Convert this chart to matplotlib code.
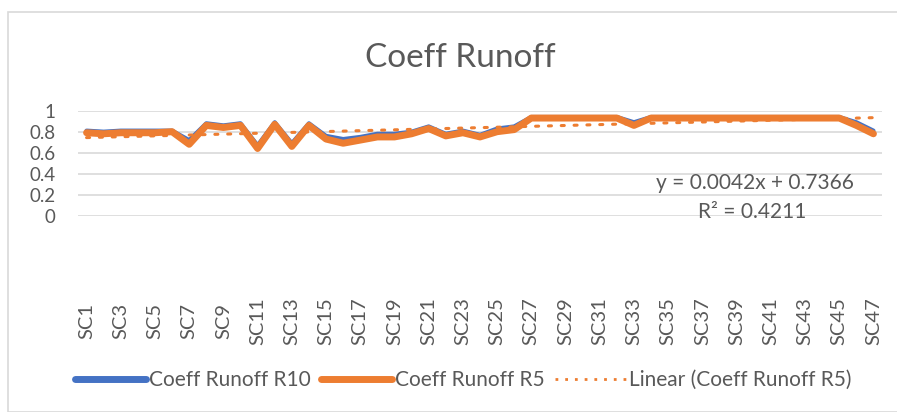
import matplotlib
matplotlib.use("Agg")
import matplotlib.pyplot as plt
import numpy as np
from matplotlib.patches import Rectangle
from matplotlib.lines import Line2D

categories = [f"SC{i}" for i in range(1, 48)]
r10 = [0.81, 0.80, 0.81, 0.81, 0.81, 0.81, 0.72, 0.88, 0.86, 0.88,
       0.67, 0.89, 0.69, 0.88, 0.76, 0.73, 0.75, 0.78, 0.78, 0.80,
       0.85, 0.78, 0.81, 0.77, 0.83, 0.85, 0.94, 0.94, 0.94, 0.94,
       0.94, 0.94, 0.89, 0.94, 0.94, 0.94, 0.94, 0.94, 0.94, 0.94,
       0.94, 0.94, 0.94, 0.94, 0.94, 0.89, 0.81]
r5 = [0.79, 0.78, 0.79, 0.79, 0.79, 0.80, 0.68, 0.86, 0.84, 0.86,
      0.64, 0.87, 0.66, 0.86, 0.73, 0.69, 0.72, 0.75, 0.75, 0.78,
      0.83, 0.76, 0.79, 0.75, 0.80, 0.82, 0.93, 0.93, 0.93, 0.93,
      0.93, 0.93, 0.86, 0.93, 0.93, 0.93, 0.93, 0.93, 0.93, 0.93,
      0.93, 0.93, 0.93, 0.93, 0.93, 0.86, 0.78]
yticks = [0, 0.2, 0.4, 0.6, 0.8, 1]
ytick_labels = ["0", "0.2", "0.4", "0.6", "0.8", "1"]
title = "Coeff Runoff"
equation = "y = 0.0042x + 0.7366"
r2_text = "R² = 0.4211"

FONT = ["Lato", "DejaVu Sans"]
TXT = "#595959"
BLUE = "#4472C4"
ORANGE = "#ED7D31"

W, H = 897, 412
fig = plt.figure(figsize=(W / 100, H / 100), dpi=100)
plt.rcParams['font.family'] = FONT

# chart border
fig.patches.append(Rectangle((8 / W, 0), 1, 1 - 12 / H, transform=fig.transFigure,
                             fill=False, edgecolor="#D9D9D9", linewidth=1.2, zorder=0))

left, right = 78 / W, 882 / W
top, bottom = 1 - 110.7 / H, 1 - 215.7 / H
ax = fig.add_axes([left, bottom, right - left, top - bottom])

x = np.arange(1, len(categories) + 1)
ax.plot(x, r10, color=BLUE, linewidth=3.0, solid_capstyle="round", solid_joinstyle="round", zorder=3)
ax.plot(x, r5, color=ORANGE, linewidth=5.0, solid_capstyle="round", solid_joinstyle="round", zorder=4)
coef = np.polyfit(x, r5, 1)
ax.plot(x, np.polyval(coef, x), color=ORANGE, linewidth=2.2, linestyle=(0, (1, 3.2)),
        dash_capstyle="round", zorder=5)

ax.set_xlim(0.5, len(categories) + 0.5)
ax.set_ylim(0, 1)
ax.set_yticks(yticks)
ax.set_yticklabels(ytick_labels, fontsize=13.5, color=TXT)
ax.yaxis.grid(True, color="#D9D9D9", linewidth=1.2)
ax.set_axisbelow(True)
ax.tick_params(axis="y", length=0, pad=16)
ax.set_xticks(x[::2])
ax.set_xticklabels(categories[::2], rotation=90, fontsize=14.5, color=TXT,
                   va="center", ha="center")
ax.tick_params(axis="x", length=0, pad=76)
for s in ax.spines.values():
    s.set_visible(False)

fig.text(460 / W, 1 - 58 / H, title, ha="center", va="center",
         fontsize=24, color=TXT)

ax.text(755 / W, 1 - 183 / H, equation, transform=fig.transFigure, ha="center",
        va="center", fontsize=15, color=TXT)
ax.text(752 / W, 1 - 212 / H, r2_text, transform=fig.transFigure, ha="center",
        va="center", fontsize=15, color=TXT)

handles = [Line2D([], [], color=BLUE, linewidth=5, solid_capstyle="round"),
           Line2D([], [], color=ORANGE, linewidth=5, solid_capstyle="round"),
           Line2D([], [], color=ORANGE, linewidth=2, linestyle=(0, (1, 2.5)))]
labels = ["Coeff Runoff R10", "Coeff Runoff R5", "Linear (Coeff Runoff R5)"]
leg = fig.legend(handles, labels, loc="center", bbox_to_anchor=(463 / W, 1 - 380 / H),
                 ncol=3, frameon=False, fontsize=15, handlelength=3.4,
                 handletextpad=0.15, columnspacing=0.5, borderpad=0, borderaxespad=0)
for t in leg.get_texts():
    t.set_color(TXT)

fig.savefig("out.png", dpi=100)
